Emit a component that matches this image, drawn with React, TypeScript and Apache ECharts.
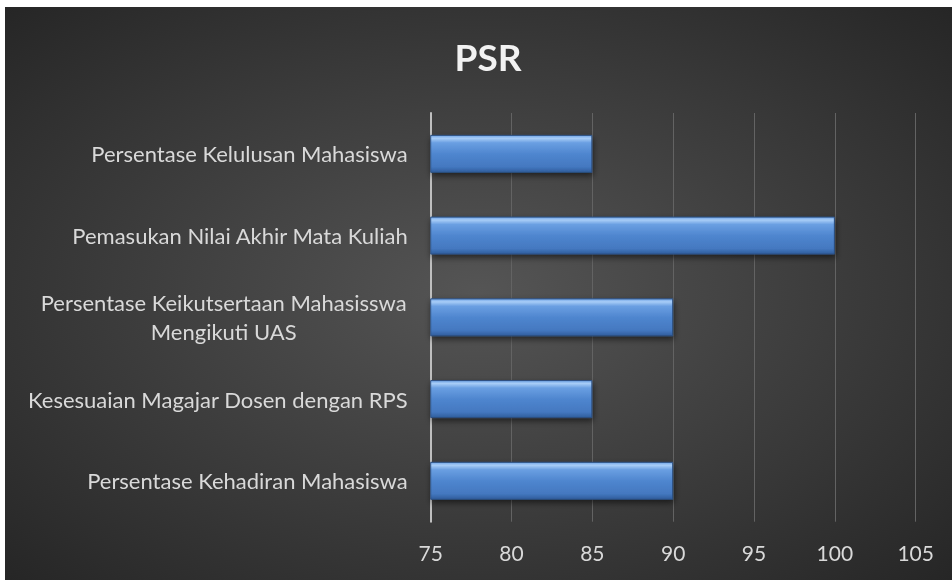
import React, { useEffect, useRef } from "react";
import * as echarts from "echarts";

const categories = [
  "Persentase Kehadiran Mahasiswa",
  "Kesesuaian Magajar Dosen dengan RPS",
  "Persentase Keikutsertaan Mahasisswa\nMengikuti UAS",
  "Pemasukan Nilai Akhir Mata Kuliah",
  "Persentase Kelulusan Mahasiswa",
];
const values = [90, 85, 90, 100, 85];
const axisMin = 75;
const axisMax = 105;
const axisStep = 5;
const titleText = "PSR";

const FONT = "Lato, 'Noto Sans', sans-serif";
const LABEL_SIZE = 22;
const LINE_H = 29;

function measure(text: string, font: string): number {
  const c = document.createElement("canvas");
  const ctx = c.getContext("2d");
  if (!ctx) return 370;
  ctx.font = font;
  return ctx.measureText(text).width;
}

export default function App() {
  const ref = useRef<HTMLDivElement>(null);
  useEffect(() => {
    if (!ref.current) return;
    const chart = echarts.init(ref.current, undefined, { renderer: "svg" });
    const multi = categories.find((c) => c.includes("\n")) || "";
    const firstLine = multi.split("\n")[0];
    const w = Math.ceil(measure(firstLine, `${LABEL_SIZE}px ${FONT}`)) + 1;
    chart.setOption({
      animation: false,
      backgroundColor: {
        type: "radial",
        x: 0.5,
        y: 0.5,
        r: 0.75,
        colorStops: [
          { offset: 0, color: "#555555" },
          { offset: 1, color: "#232323" },
        ],
      },
      graphic: [
        {
          type: "text",
          x: 483,
          y: 49,
          style: {
            text: titleText,
            fill: "#f2f2f2",
            fontSize: 37,
            fontWeight: "bold",
            fontFamily: FONT,
            textAlign: "center",
            textVerticalAlign: "middle",
            shadowColor: "rgba(0,0,0,0.8)",
            shadowBlur: 4,
            shadowOffsetX: 1,
            shadowOffsetY: 2,
          },
        },
      ],
      grid: { left: 425.7, right: 36.3, top: 106, bottom: 58.3, containLabel: false },
      xAxis: {
        type: "value",
        min: axisMin,
        max: axisMax,
        interval: axisStep,
        axisLine: { show: false },
        axisTick: { show: false },
        splitLine: { show: true, lineStyle: { color: "#636363", width: 1 } },
        axisLabel: {
          color: "#d9d9d9",
          fontSize: LABEL_SIZE - 1,
          fontFamily: FONT,
          margin: 20,
        },
      },
      yAxis: {
        type: "category",
        data: categories,
        axisLine: { show: true, lineStyle: { color: "#bfbfbf", width: 2 } },
        axisTick: { show: false },
        axisLabel: {
          color: "#d9d9d9",
          fontSize: LABEL_SIZE,
          fontFamily: FONT,
          margin: 23,
          lineHeight: LINE_H,
          formatter: (v: string) => {
            if (v.includes("\n")) {
              const [a, b] = v.split("\n");
              return `{m|${a}}\n{m|${b}}`;
            }
            return v;
          },
          rich: {
            m: {
              width: w,
              align: "center",
              color: "#d9d9d9",
              fontSize: LABEL_SIZE,
              fontFamily: FONT,
              lineHeight: LINE_H,
            },
          },
        },
      },
      series: [
        {
          type: "bar",
          data: values,
          barWidth: "46.5%",
          itemStyle: {
            color: {
              type: "linear",
              x: 0,
              y: 0,
              x2: 0,
              y2: 1,
              colorStops: [
                { offset: 0, color: "#6fa3e6" },
                { offset: 0.08, color: "#a8cdf7" },
                { offset: 0.2, color: "#6a9fe2" },
                { offset: 0.5, color: "#4f86cf" },
                { offset: 0.85, color: "#4478c0" },
                { offset: 1, color: "#2f5d9c" },
              ],
            },
            borderColor: "#2c4f80",
            borderWidth: 1,
            shadowColor: "rgba(0,0,0,0.55)",
            shadowBlur: 6,
            shadowOffsetY: 3,
            shadowOffsetX: 1,
          },
        },
      ],
    });
    return () => chart.dispose();
  }, []);
  return (
    <div
      ref={ref}
      style={{ position: "fixed", left: 5, top: 7, width: 947, height: 573 }}
    />
  );
}
